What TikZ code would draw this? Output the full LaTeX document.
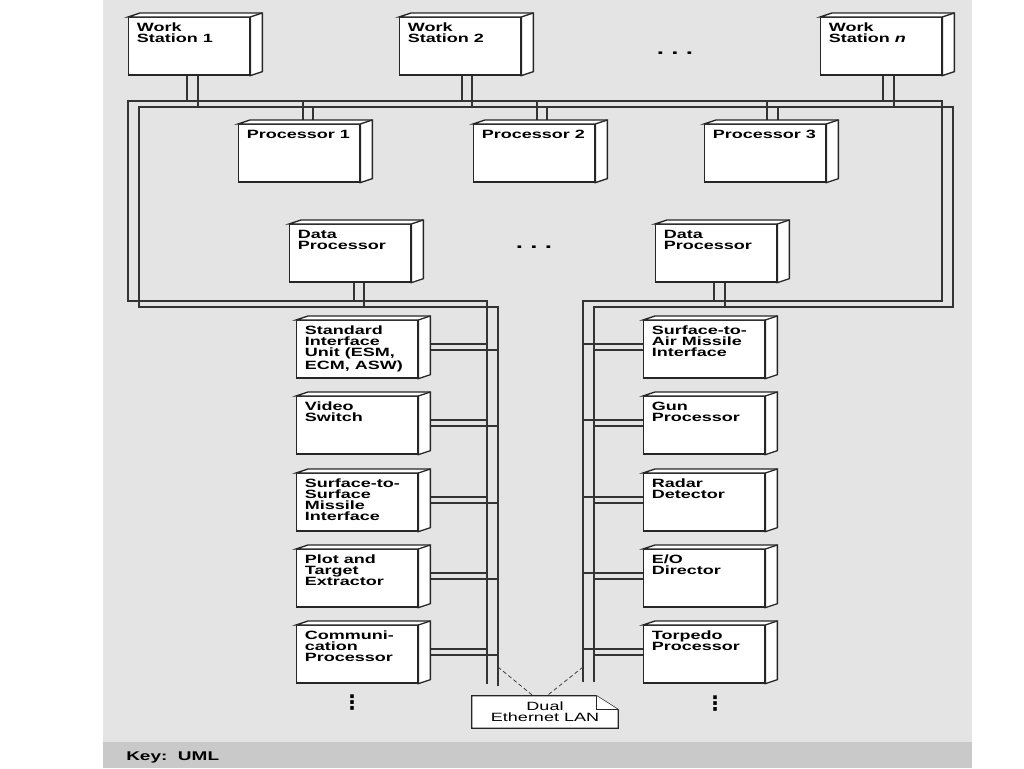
\documentclass[tikz,border=0pt]{standalone}
\usepackage{fontspec}
\setmainfont{Liberation Sans}[FakeStretch=1.5]
\newfontfamily\dotsfont{DejaVu Sans}
\usetikzlibrary{calc, backgrounds}
\definecolor{panelgray}{RGB}{228,228,228}
\definecolor{keygray}{RGB}{201,201,201}
\tikzset{
    boxtext/.style={anchor=north west, align=left, inner xsep=6.5pt, inner ysep=4.5pt,
        font=\bfseries\fontsize{9}{8.25}\selectfont},
    unode/.style={draw=black!85, fill=white, line width=1pt, anchor=north west, inner sep=0pt,
        minimum width=90.75pt, minimum height=43pt, label={[boxtext]north west:#1}},
    face/.style={draw=black!85, fill=white, line width=1pt},
    bus/.style={draw=black!80, line width=1.1pt},
    dots/.style={font=\bfseries\fontsize{13}{13}\selectfont, inner sep=0pt},
    vdots/.style={font=\dotsfont\bfseries\fontsize{15}{15}\selectfont, inner sep=0pt},
    lannote/.style={align=center, inner sep=0pt, minimum width=109.5pt, minimum height=24pt,
        font=\fontsize{9}{8.25}\selectfont},
}

\begin{document}
\begin{tikzpicture}[x=0.75pt, y=-0.75pt]
            \useasboundingbox (0,0) rectangle (1024,768);
            % work stations
            \node[unode={Work\\Station 1}] (ws1) at (128,17) {};
            \node[unode={Work\\Station 2}] (ws2) at (399,17) {};
            \node[unode={Work\\Station \textit{n}}] (wsn) at (820,17) {};
            \node[dots] (wsdots) at (675,53) {.\hspace{5.5pt}.\hspace{5.5pt}.};
            % processors
            \node[unode={Processor 1}] (p1) at (238,124) {};
            \node[unode={Processor 2}] (p2) at (473,124) {};
            \node[unode={Processor 3}] (p3) at (704,124) {};
            \node[unode={Data\\Processor}] (dp1) at (289,224) {};
            \node[unode={Data\\Processor}] (dp2) at (655,224) {};
            \node[dots] (dpdots) at (534,247) {.\hspace{5.5pt}.\hspace{5.5pt}.};
            % units on the left of the LAN
            \node[unode={Standard\\Interface\\Unit (ESM,\\ECM, ASW)}] (sl1) at (296,320) {};
            \node[unode={Video\\Switch}] (sl2) at (296,396) {};
            \node[unode={Surface-to-\\Surface\\Missile\\Interface}] (sl3) at (296,473) {};
            \node[unode={Plot and\\Target\\Extractor}] (sl4) at (296,549) {};
            \node[unode={Communi-\\cation\\Processor}] (sl5) at (296,625) {};
            \node[vdots] (sldots) at (352,703) {⋮};
            % units on the right of the LAN
            \node[unode={Surface-to-\\Air Missile\\Interface}] (sr1) at (643,320) {};
            \node[unode={Gun\\Processor}] (sr2) at (643,396) {};
            \node[unode={Radar\\Detector}] (sr3) at (643,473) {};
            \node[unode={E/O\\Director}] (sr4) at (643,549) {};
            \node[unode={Torpedo\\Processor}] (sr5) at (643,625) {};
            \node[vdots] (srdots) at (715,704) {⋮};
            % depth faces of the nodes
            \foreach \nm in {ws1,ws2,wsn,p1,p2,p3,dp1,dp2,sl1,sl2,sl3,sl4,sl5,sr1,sr2,sr3,sr4,sr5} {
                \draw[face] (\nm.north west) -- ++(12,-4) -- ($(\nm.north east)+(12,-4)$)
                    -- ($(\nm.south east)+(12,-4)$) -- (\nm.south east) -- (\nm.north east) -- cycle;
                \draw[face] (\nm.north east) -- ++(12,-4);
            }
            % LAN note
            \node[lannote] (lan) at (545,712) {Dual\\Ethernet LAN};
            \node[anchor=base west, inner sep=0pt, font=\bfseries\fontsize{9.5}{11}\selectfont] (key) at (126,760) {Key:\ \ UML};

            \begin{scope}[on background layer]
                \fill[panelgray] (103,0) rectangle (972,742);
                \fill[keygray] (103,742) rectangle (972,768);
                % dual bus
                \coordinate (ab1) at (487,684);
                \coordinate (acl) at (128,301);
                \coordinate (actr) at (942,101);
                \coordinate (acr) at (583,301);
                \coordinate (ab2) at (583,682);
                \coordinate (bb1) at (498,686);
                \coordinate (bcl) at (139,307);
                \coordinate (bctr) at (953,107);
                \coordinate (bcr) at (594,307);
                \coordinate (bb2) at (594,682);
                \draw[bus] (ab1) |- (acl) |- (actr) |- (acr) -- (ab2);
                \draw[bus] (bb1) |- (bcl) |- (bctr) |- (bcr) -- (bb2);
                % taps to the top bus
                \foreach \nm/\da/\db in {ws1/59/70, ws2/63/73, wsn/63/74} {
                    \coordinate (\nm-a) at ($(\nm.south west)+(\da,0)$);
                    \coordinate (\nm-b) at ($(\nm.south west)+(\db,0)$);
                    \draw[bus] (\nm-a) -- (\nm-a |- actr);
                    \draw[bus] (\nm-b) -- (\nm-b |- bctr);
                }
                \foreach \nm/\da/\db in {p1/65/75, p2/64/74, p3/63/74} {
                    \coordinate (\nm-a) at ($(\nm.north west)+(\da,0)$);
                    \coordinate (\nm-b) at ($(\nm.north west)+(\db,0)$);
                    \draw[bus] (\nm-a |- actr) -- (\nm-a);
                    \draw[bus] (\nm-b |- bctr) -- (\nm-b);
                }
                \foreach \nm/\da/\db in {dp1/65/75, dp2/59/70} {
                    \coordinate (\nm-a) at ($(\nm.south west)+(\da,0)$);
                    \coordinate (\nm-b) at ($(\nm.south west)+(\db,0)$);
                    \draw[bus] (\nm-a) -- (\nm-a |- acl);
                    \draw[bus] (\nm-b) -- (\nm-b |- bcl);
                }
                % taps to the LAN
                \foreach \nm in {sl1,sl2,sl3,sl4,sl5} {
                    \coordinate (\nm-a) at ($(\nm.east)+(0,-5.5)$);
                    \coordinate (\nm-b) at ($(\nm.east)+(0,0.5)$);
                    \draw[bus] (\nm-a) -- (\nm-a -| ab1);
                    \draw[bus] (\nm-b) -- (\nm-b -| bb1);
                }
                \foreach \nm in {sr1,sr2,sr3,sr4,sr5} {
                    \coordinate (\nm-a) at ($(\nm.west)+(0,-5.5)$);
                    \coordinate (\nm-b) at ($(\nm.west)+(0,0.5)$);
                    \draw[bus] (\nm-a -| ab2) -- (\nm-a);
                    \draw[bus] (\nm-b -| bb2) -- (\nm-b);
                }
                % note and its anchors
                \coordinate (dl) at ($(bb1)+(0,-19)$);
                \coordinate (dr) at ($(ab2)+(0,-15)$);
                \draw[black!75, line width=0.6pt, dash pattern=on 3pt off 2pt] (dl) -- ($(lan.north)+(-12,0)$);
                \draw[black!75, line width=0.6pt, dash pattern=on 3pt off 2pt] (dr) -- ($(lan.north)+(2,0)$);
                \draw[face] (lan.north west) -- ($(lan.north east)+(-22,0)$) -- ($(lan.north east)+(0,14)$)
                    -- (lan.south east) -- (lan.south west) -- cycle;
                \draw[face] ($(lan.north east)+(-22,0)$) -- ($(lan.north east)+(-22,14)$) -- ($(lan.north east)+(0,14)$);
            \end{scope}
        \end{tikzpicture}
\end{document}
